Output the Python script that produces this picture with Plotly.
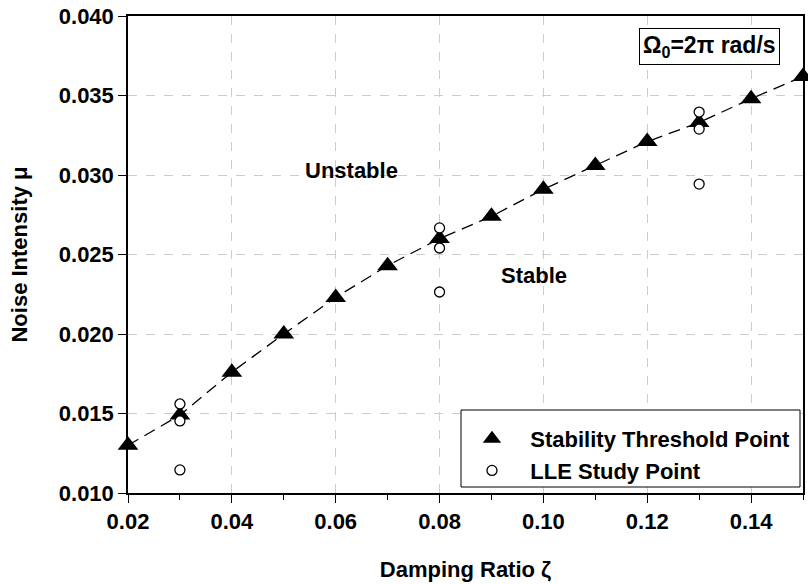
import plotly.graph_objects as go

# Stability threshold points
thr_x = [0.02, 0.03, 0.04, 0.05, 0.06, 0.07, 0.08, 0.09, 0.10, 0.11, 0.12, 0.13, 0.14, 0.15]
thr_y = [0.0130, 0.0149, 0.0176, 0.0200, 0.0223, 0.0243, 0.0260, 0.0274, 0.0291, 0.0306,
         0.0321, 0.0333, 0.0348, 0.0362]

# LLE study points
lle_x = [0.03, 0.03, 0.03, 0.08, 0.08, 0.08, 0.13, 0.13, 0.13]
lle_y = [0.0156, 0.01453, 0.01145, 0.02667, 0.02541, 0.02264, 0.03396, 0.03289, 0.02943]

x_ticks = [0.02, 0.04, 0.06, 0.08, 0.10, 0.12, 0.14]
x_tick_labels = ["0.02", "0.04", "0.06", "0.08", "0.10", "0.12", "0.14"]
y_ticks = [0.010, 0.015, 0.020, 0.025, 0.030, 0.035, 0.040]
y_tick_labels = ["0.010", "0.015", "0.020", "0.025", "0.030", "0.035", "0.040"]

FONT = "Liberation Sans, Arial, sans-serif"
NB = "\u00a0\u00a0\u00a0"

fig = go.Figure()

fig.add_trace(go.Scatter(
    x=thr_x, y=thr_y, mode="lines", line=dict(color="black", width=1.3, dash="12px,7px"),
    showlegend=False, hoverinfo="skip", cliponaxis=False))

fig.add_trace(go.Scatter(
    x=thr_x, y=thr_y, mode="markers", name=NB + "Stability Threshold Point",
    marker=dict(symbol="triangle-up", size=18, color="black"),
    cliponaxis=False))

fig.add_trace(go.Scatter(
    x=lle_x, y=lle_y, mode="markers", name=NB + "LLE Study Point",
    marker=dict(symbol="circle", size=10, color="white", line=dict(color="black", width=1.3)),
    cliponaxis=False))

# plot area in pixels: x 128..805, y 16..493
def px_x(p):
    return (p - 128) / 677.0

def px_y(p):
    return (493 - p) / 477.0

fig.update_layout(
    width=808, height=584,
    margin=dict(l=128, r=3, t=16, b=91),
    plot_bgcolor="white", paper_bgcolor="white",
    font=dict(family=FONT, size=22, color="black"),
    legend=dict(
        x=px_x(473), y=px_y(418), xanchor="left", yanchor="top",
        borderwidth=0, bgcolor="rgba(0,0,0,0)",
        font=dict(family=FONT, size=22, color="black", weight="bold"),
        tracegroupgap=0, itemsizing="trace",
    ),
    shapes=[
        dict(type="rect", xref="paper", yref="paper",
             x0=px_x(462), x1=px_x(802), y0=px_y(487), y1=px_y(410),
             line=dict(color="black", width=1), fillcolor="white", layer="above"),
    ],
    xaxis=dict(
        range=[0.02, 0.15], tickvals=x_ticks, ticktext=x_tick_labels,
        showgrid=True, gridcolor="#cccccc", griddash="dash", gridwidth=1,
        showline=True, linecolor="black", linewidth=1.5, mirror=True,
        ticks="outside", ticklen=8, tickwidth=1.3, tickcolor="black",
        minor=dict(dtick=0.01, tick0=0.02, ticks="outside", ticklen=5, tickwidth=1.3,
                   tickcolor="black", showgrid=False),
        tickfont=dict(family=FONT, size=22, weight="bold"),
        title=dict(text="Damping Ratio ζ", font=dict(family=FONT, size=22, weight="bold"),
                   standoff=28),
        zeroline=False,
    ),
    yaxis=dict(
        range=[0.010, 0.040], tickvals=y_ticks, ticktext=y_tick_labels,
        showgrid=True, gridcolor="#cccccc", griddash="dash", gridwidth=1,
        showline=True, linecolor="black", linewidth=1.5, mirror=True,
        ticks="outside", ticklen=8, tickwidth=1.3, tickcolor="black",
        tickfont=dict(family=FONT, size=22, weight="bold"),
        title=dict(text="Noise Intensity μ", font=dict(family=FONT, size=22, weight="bold"),
                   standoff=25),
        zeroline=False,
    ),
    annotations=[
        dict(x=0.0631, y=0.0303, xref="x", yref="y", text="<b>Unstable</b>", showarrow=False,
             font=dict(family=FONT, size=22)),
        dict(x=0.0981, y=0.0237, xref="x", yref="y", text="<b>Stable</b>", showarrow=False,
             font=dict(family=FONT, size=22)),
        dict(x=0.1319, y=0.0381, xref="x", yref="y", text="<b>Ω<sub>0</sub>=2π rad/s</b>",
             showarrow=False, font=dict(family=FONT, size=23),
             bordercolor="black", borderwidth=1, bgcolor="white", borderpad=3),
    ],
)

fig.write_html("out.html")
